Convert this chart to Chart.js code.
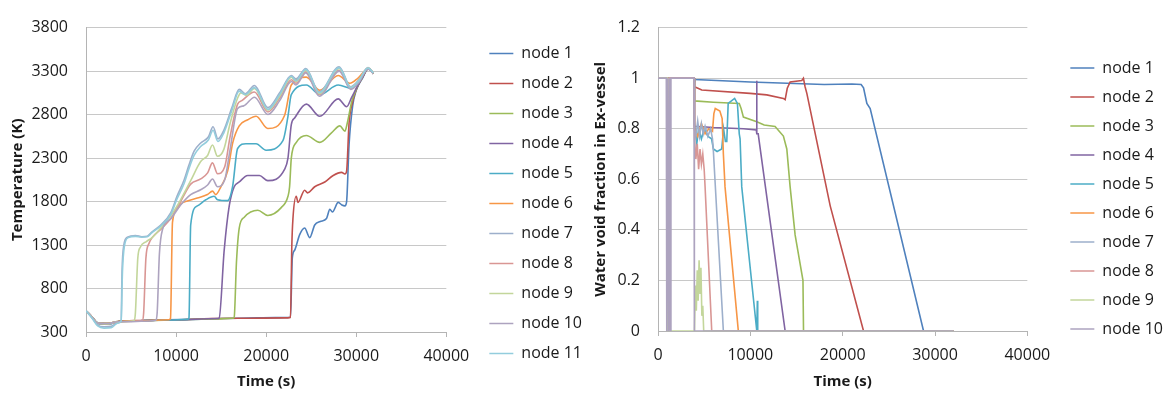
<!DOCTYPE html>
<html>
<head>
<meta charset="utf-8">
<title>Node temperature and water void fraction</title>
<script src="https://cdn.jsdelivr.net/npm/chart.js@4.4.1/dist/chart.umd.min.js"></script>
<style>
  html, body { margin: 0; padding: 0; background: #fff; overflow: hidden; }
  body { width: 1163px; height: 394px; position: relative; }
  .panel { position: absolute; top: 0; height: 394px; }
  #leftBox { left: 0; width: 600px; }
  #rightBox { left: 570px; width: 603px; }
</style>
</head>
<body>
<div class="panel" id="leftBox"><canvas id="tempChart" width="600" height="394"></canvas></div>
<div class="panel" id="rightBox"><canvas id="voidChart" width="603" height="394"></canvas></div>
<script>
// ---- axis ticks ----
const timeTicks = [0, 10000, 20000, 30000, 40000];
const tempTicks = [300, 800, 1300, 1800, 2300, 2800, 3300, 3800];
const voidTicks = [0, 0.2, 0.4, 0.6, 0.8, 1, 1.2];

const nodeNames = ['node 1', 'node 2', 'node 3', 'node 4', 'node 5', 'node 6',
                   'node 7', 'node 8', 'node 9', 'node 10', 'node 11'];

// ---- temperature (K) per node, [time s, K] ----
const temp1 = [[0,545],[700,470],[1300,405],[2500,392],[3500,418],[6000,430],[9000,440],[12000,445],[15000,455],[18000,460],[21000,465],[22700,470],[22900,1150],[23160,1240],[23720,1420],[24270,1495],[24830,1385],[25390,1530],[26000,1570],[26700,1605],[27070,1710],[27350,1680],[28000,1790],[28400,1760],[28740,1750],[28930,1800],[29200,2450],[29600,2900],[30000,3080],[30700,3220],[31350,3330],[31900,3270]];
const temp2 = [[0,545],[700,470],[1300,400],[2500,400],[3500,420],[6000,432],[10000,440],[14000,455],[18000,458],[22000,462],[22700,468],[22850,1300],[22970,1600],[23340,1860],[23530,1790],[24270,1930],[24600,1900],[25390,1970],[26510,2025],[27440,2100],[28370,2135],[28740,2117],[28930,2150],[29200,2700],[29600,2950],[30000,3090],[30700,3230],[31350,3330],[31900,3270]];
const temp3 = [[0,545],[700,470],[1300,405],[2500,400],[3500,420],[6000,430],[10000,440],[14000,450],[16300,458],[16450,470],[16700,1100],[17010,1495],[17570,1620],[19070,1700],[20180,1640],[21670,1730],[22420,1860],[22600,1970],[22790,2300],[23350,2480],[24460,2560],[25950,2480],[27250,2590],[28180,2670],[28740,2610],[29000,2700],[29500,2950],[30000,3090],[30700,3230],[31350,3330],[31900,3270]];
const temp4 = [[0,545],[700,470],[1300,400],[2500,395],[3500,418],[6000,430],[10000,440],[14600,455],[14780,460],[15340,1240],[15900,1750],[16450,1970],[17010,2025],[17950,2100],[19250,2100],[20180,2040],[22040,2170],[22420,2300],[22790,2685],[23160,2760],[24460,2920],[25950,2780],[28000,2980],[28930,2890],[29500,3000],[30000,3100],[30700,3230],[31350,3330],[31900,3270]];
const temp5 = [[0,545],[700,470],[1300,395],[2500,390],[3500,415],[6000,428],[9000,438],[11300,445],[11430,460],[11620,1530],[12360,1750],[13300,1820],[14220,1860],[14600,1820],[15720,1810],[16270,1970],[16830,2410],[17760,2465],[18880,2465],[19990,2390],[21860,2500],[22420,2780],[22790,3030],[24460,3140],[25950,3030],[28000,3140],[29490,3100],[30200,3180],[31350,3330],[31900,3270]];
const temp6 = [[0,545],[700,470],[1300,400],[2500,395],[3500,418],[6000,430],[9200,440],[9380,455],[9600,1560],[10130,1714],[10500,1770],[11250,1806],[12360,1840],[13480,1880],[14040,1920],[14400,1880],[14970,1970],[15720,2150],[16300,2480],[17010,2670],[17950,2740],[18880,2780],[20180,2640],[22040,2790],[22790,3140],[24460,3230],[25950,3080],[28000,3250],[29300,3160],[30200,3220],[31350,3330],[31900,3270]];
const temp7 = [[0,545],[700,460],[1300,380],[2000,360],[2800,365],[3500,405],[3900,425],[4000,1000],[4200,1300],[4600,1390],[5500,1410],[6200,1395],[6800,1400],[7300,1450],[8300,1530],[9400,1670],[10100,1860],[10900,2050],[11400,2210],[12000,2380],[12700,2470],[13600,2545],[14100,2660],[14650,2520],[15300,2620],[16200,2880],[17000,3090],[17700,3040],[18700,3135],[20200,2880],[21500,3050],[22800,3250],[23300,3210],[24400,3330],[25900,3060],[28100,3350],[29400,3120],[30300,3200],[31300,3340],[31900,3280]];
const temp8 = [[0,545],[700,465],[1300,400],[2500,398],[3500,418],[6250,432],[6400,520],[6650,1150],[7000,1320],[7340,1385],[8500,1500],[9500,1620],[10500,1800],[11620,2000],[12730,2060],[13500,2130],[14040,2245],[14600,2120],[15400,2200],[16000,2550],[16830,2920],[17300,2960],[18700,3060],[20200,2830],[21500,2990],[22800,3200],[23300,3160],[24400,3290],[25900,3030],[28100,3310],[29400,3100],[30300,3180],[31300,3330],[31900,3275]];
const temp9 = [[0,545],[700,465],[1300,400],[2500,395],[3500,418],[5300,430],[5470,500],[5750,1150],[6030,1275],[6700,1340],[7340,1385],[8500,1520],[9500,1650],[10500,1820],[11620,2040],[12730,2260],[13500,2330],[14040,2450],[14600,2320],[15300,2400],[16000,2700],[16830,2990],[17200,3050],[17800,3020],[18700,3100],[20200,2850],[21500,3010],[22800,3230],[23300,3180],[24400,3310],[25900,3040],[28100,3330],[29400,3110],[30300,3190],[31300,3335],[31900,3280]];
const temp10 = [[0,545],[700,465],[1300,402],[2500,398],[3500,418],[7750,436],[7900,520],[8150,1200],[8500,1480],[9400,1600],[10500,1760],[11620,1880],[12730,1935],[13500,1990],[14040,2060],[14600,1970],[15400,2050],[16000,2400],[16830,2870],[17500,2900],[18700,3000],[20200,2800],[21500,2960],[22800,3180],[23300,3140],[24400,3280],[25900,3010],[28100,3300],[29400,3090],[30300,3170],[31300,3325],[31900,3270]];
const temp11 = [[0,545],[700,455],[1300,370],[2000,345],[2800,350],[3500,400],[3900,425],[4050,1000],[4250,1280],[4700,1385],[5500,1400],[6200,1390],[6800,1395],[7300,1440],[8300,1520],[9400,1650],[10100,1830],[10900,2010],[11400,2170],[12000,2330],[12700,2430],[13600,2510],[14100,2620],[14650,2490],[15300,2590],[16200,2850],[17000,3070],[17700,3030],[18700,3110],[20200,2860],[21500,3030],[22800,3240],[23300,3190],[24400,3320],[25900,3050],[28100,3340],[29400,3110],[30300,3190],[31300,3335],[31900,3280]];

// ---- water void fraction in ex-vessel per node, [time s, fraction] ----
const void1 = [[0,1],[3900,1],[4000,0.995],[10000,0.985],[14000,0.98],[18000,0.975],[21000,0.977],[22000,0.975],[22260,0.962],[22620,0.9],[22980,0.88],[28760,0],[32000,0]];
const void2 = [[0,1],[3900,1],[3950,0.966],[4740,0.953],[9970,0.94],[11780,0.934],[13580,0.92],[13770,0.915],[14000,0.96],[14310,0.985],[15580,0.991],[15750,1.0],[15930,0.966],[16120,0.94],[18650,0.495],[22260,0],[32000,0]];
const void3 = [[0,1],[3900,1],[3950,0.91],[6000,0.905],[8800,0.9],[9000,0.88],[9250,0.846],[10700,0.828],[11500,0.815],[12680,0.809],[13580,0.771],[13950,0.72],[14310,0.57],[14850,0.38],[15700,0.2],[15760,0],[32000,0]];
const void4 = [[0,1],[950,1],[1000,0],[1100,0.12],[1200,0],[1260,1],[3900,1],[3950,0.81],[6000,0.805],[9250,0.8],[10650,0.795],[10680,0.99],[10720,0.78],[10850,0.78],[13770,0],[32000,0]];
const void5 = [[0,1],[3900,1],[3950,0.82],[4200,0.74],[4400,0.8],[4700,0.76],[5000,0.8],[5400,0.77],[5800,0.76],[6000,0.72],[6400,0.71],[6900,0.72],[7100,0.8],[7300,0.75],[7450,0.75],[7600,0.9],[8300,0.92],[8600,0.9],[8800,0.78],[8890,0.76],[9070,0.57],[10700,0],[10760,0.12],[10800,0],[32000,0]];
const void6 = [[0,1],[950,1],[1000,0],[1100,0.15],[1150,0],[1250,1],[3900,1],[3950,0.8],[4300,0.77],[4700,0.82],[5100,0.78],[5500,0.8],[5900,0.79],[6050,0.86],[6200,0.88],[6700,0.87],[6950,0.84],[7080,0.7],[7260,0.57],[8700,0],[32000,0]];
const void7 = [[0,1],[980,1],[1020,0],[1200,0],[1240,1],[3900,1],[3940,0.8],[4100,0.77],[4300,0.83],[4500,0.77],[4700,0.82],[4900,0.78],[5100,0.81],[5400,0.77],[5700,0.8],[5900,0.76],[6000,0.71],[7080,0],[32000,0]];
const void8 = [[0,1],[1000,1],[1040,0],[1150,0],[1200,1],[3900,1],[3960,0.76],[4100,0.68],[4250,0.74],[4400,0.64],[4550,0.72],[4700,0.66],[4850,0.7],[5000,0.64],[5100,0.57],[5820,0],[32000,0]];
const void9 = [[0,1],[1000,1],[1060,0],[3950,0],[4050,0.18],[4150,0.08],[4250,0.24],[4350,0.12],[4450,0.28],[4550,0.15],[4650,0.25],[4750,0.06],[4850,0.1],[4950,0],[32000,0]];
const void10 = [[0,1],[900,1],[950,0],[1050,1],[1150,0],[1250,1],[1350,0],[1400,1],[3900,1],[3940,0],[32000,0]];

const tempSeries = [temp1, temp2, temp3, temp4, temp5, temp6, temp7, temp8, temp9, temp10, temp11];
const voidSeries = [void1, void2, void3, void4, void5, void6, void7, void8, void9, void10];

// excel-ish palette
const nodeColors = ['#4F81BD', '#C0504D', '#9BBB59', '#8064A2', '#4BACC6', '#F79646',
                    '#9DAFCB', '#D99694', '#C3D69B', '#ADA3BF', '#93CDDD'];

const FONT = 'Open Sans';
const textColor = '#1a1a1a';
const gridGray = '#c8c8c8';
const axisGray = '#b4b4b4';

function makeDatasets(series, smooth) {
    return series.map((pts, i) => ({
        label: nodeNames[i],
        data: pts,
        borderColor: nodeColors[i],
        backgroundColor: nodeColors[i],
        borderWidth: 1.6,
        pointRadius: 0,
        fill: false,
        tension: 0,
        cubicInterpolationMode: smooth ? 'monotone' : 'default',
        // last series on top, like the original
        order: -i
    }));
}

function legendOpts(pad) {
    return {
        position: 'right',
        maxWidth: 200,
        labels: {
            usePointStyle: true,
            pointStyle: 'line',
            pointStyleWidth: 24,
            padding: pad,
            color: textColor,
            font: { family: FONT, size: 16 },
            sort: (a, b) => a.datasetIndex - b.datasetIndex
        }
    };
}

function timeAxis(height, titlePadBottom) {
    return {
        type: 'linear',
        min: timeTicks[0],
        max: timeTicks[timeTicks.length - 1],
        afterBuildTicks: axis => { axis.ticks = timeTicks.map(v => ({ value: v })); },
        ticks: { padding: 10, color: textColor, font: { family: FONT, size: 16 }, callback: v => String(v) },
        grid: { display: true, drawOnChartArea: false, drawTicks: true, tickLength: 5, color: axisGray },
        border: { color: axisGray },
        title: { display: true, text: 'Time (s)', color: textColor,
                 font: { family: FONT, size: 15, weight: 'bold' },
                 padding: { top: 0, bottom: titlePadBottom } },
        afterFit: axis => { axis.height = height; }
    };
}

function gapAxis(w) {
    return {
        position: 'right',
        display: true,
        grid: { display: false, drawTicks: false },
        border: { display: false },
        ticks: { display: false },
        afterFit: axis => { axis.width = w; }
    };
}

new Chart(document.getElementById('tempChart'), {
    type: 'line',
    data: { datasets: makeDatasets(tempSeries, true) },
    options: {
        responsive: false,
        animation: false,
        layout: { padding: { top: 13, right: 8, bottom: 0, left: 0 } },
        plugins: { legend: legendOpts(14), tooltip: { enabled: false } },
        scales: {
            x: timeAxis(62, 3),
            y: {
                min: tempTicks[0],
                max: tempTicks[tempTicks.length - 1],
                afterBuildTicks: axis => { axis.ticks = tempTicks.map(v => ({ value: v })); },
                ticks: { padding: 18, color: textColor, font: { family: FONT, size: 16 }, callback: v => String(v) },
                grid: { color: gridGray, drawTicks: false },
                border: { color: axisGray },
                title: { display: true, text: 'Temperature (K)', color: textColor,
                         font: { family: FONT, size: 15, weight: 'bold' },
                         padding: { top: 9, bottom: 0 } },
                afterFit: axis => { axis.width = 86; }
            },
            gap: gapAxis(29)
        }
    }
});

new Chart(document.getElementById('voidChart'), {
    type: 'line',
    data: { datasets: makeDatasets(voidSeries, false) },
    options: {
        responsive: false,
        animation: false,
        layout: { padding: { top: 13, right: 0, bottom: 10, left: 0 } },
        plugins: { legend: legendOpts(13), tooltip: { enabled: false } },
        scales: {
            x: timeAxis(53, -7),
            y: {
                min: voidTicks[0],
                max: voidTicks[voidTicks.length - 1],
                afterBuildTicks: axis => { axis.ticks = voidTicks.map(v => ({ value: v })); },
                ticks: { padding: 18, color: textColor, font: { family: FONT, size: 16 }, callback: v => String(v) },
                grid: { color: gridGray, drawTicks: false },
                border: { color: axisGray },
                title: { display: true, text: 'Water void fraction in Ex-vessel', color: textColor,
                         font: { family: FONT, size: 15, weight: 'bold' },
                         padding: { top: 22, bottom: 0 } },
                afterFit: axis => { axis.width = 88; }
            },
            gap: gapAxis(30)
        }
    }
});
</script>
</body>
</html>
